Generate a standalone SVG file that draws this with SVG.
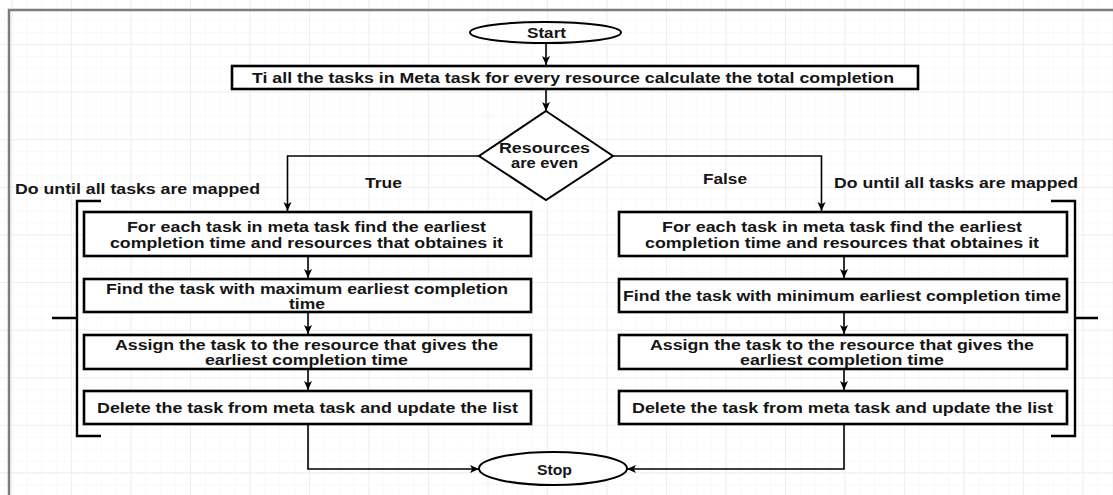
<svg xmlns="http://www.w3.org/2000/svg" width="1113" height="495" viewBox="0 0 1113 495">
<style>
.t{font-family:"Liberation Sans",Arial,sans-serif;font-weight:bold;font-size:14px;fill:#151515}
.box{fill:#fff;stroke:#000;stroke-width:2.6}
.shape{fill:#fff;stroke:#000;stroke-width:2}
.con{fill:none;stroke:#000;stroke-width:1.6}
.br{fill:none;stroke:#000;stroke-width:2.4}
</style>
<defs>
<pattern id="minor" x="11.5" y="-3.6" width="14.875" height="11.9" patternUnits="userSpaceOnUse">
<path d="M0,0 V11.9 M0,0 H14.875" fill="none" stroke="#f3f3f3" stroke-width="1"/>
</pattern>
<pattern id="major" x="11.5" y="-3.6" width="59.5" height="47.6" patternUnits="userSpaceOnUse">
<path d="M0,0 V47.6 M0,0 H59.5" fill="none" stroke="#e6e6e6" stroke-width="1"/>
</pattern>
<marker id="arr" viewBox="0 0 10 10" refX="10" refY="5" markerWidth="9" markerHeight="9" orient="auto" markerUnits="userSpaceOnUse">
<path d="M0,0.5 L10,5 L0,9.5 L2.5,5 z" fill="#000"/>
</marker>
</defs>
<rect width="1113" height="495" fill="#fff"/>
<rect width="1113" height="495" fill="url(#minor)"/>
<rect width="1113" height="495" fill="url(#major)"/>
<path d="M9,495 V10 H1113" fill="none" stroke="#7d7d7d" stroke-width="2.5"/>

<g id="connectors">
<path class="con" d="M546,43 V65" marker-end="url(#arr)"/>
<path class="con" d="M546,89 V111" marker-end="url(#arr)"/>
<path class="con" d="M479,156 H287.5 V211" marker-end="url(#arr)"/>
<path class="con" d="M613,156 H821.5 V211" marker-end="url(#arr)"/>
<path class="con" d="M308,256 V278" marker-end="url(#arr)"/>
<path class="con" d="M308,312 V334" marker-end="url(#arr)"/>
<path class="con" d="M308,369 V390" marker-end="url(#arr)"/>
<path class="con" d="M844,256 V278" marker-end="url(#arr)"/>
<path class="con" d="M844,312 V334" marker-end="url(#arr)"/>
<path class="con" d="M844,369 V390" marker-end="url(#arr)"/>
<path class="con" d="M308,424 V469 H479" marker-end="url(#arr)"/>
<path class="con" d="M844,424 V469 H627" marker-end="url(#arr)"/>
<text class="t" x="365" y="188" textLength="37" lengthAdjust="spacingAndGlyphs">True</text>
<text class="t" x="703" y="184" textLength="44" lengthAdjust="spacingAndGlyphs">False</text>
</g>

<g id="start">
<ellipse class="shape" cx="545.5" cy="32.5" rx="75.5" ry="10.5"/>
<text class="t" x="527" y="38" textLength="39" lengthAdjust="spacingAndGlyphs">Start</text>
</g>

<g id="calc">
<rect class="box" x="232" y="66" width="686" height="23"/>
<text class="t" x="252" y="82.5" textLength="642" lengthAdjust="spacingAndGlyphs">Ti all the tasks in Meta task for every resource calculate the total completion</text>
</g>

<g id="decision">
<polygon class="shape" points="546,111 613,156 546,200 479,156"/>
<text class="t" x="499" y="153" textLength="91" lengthAdjust="spacingAndGlyphs">Resources</text>
<text class="t" x="511" y="168" textLength="67" lengthAdjust="spacingAndGlyphs">are even</text>
</g>

<g id="left-loop">
<path class="br" d="M101,201 H77 V436 H101 M52,318 H77"/>
<text class="t" x="15" y="194" textLength="245" lengthAdjust="spacingAndGlyphs">Do until all tasks are mapped</text>
</g>

<g id="right-loop">
<path class="br" d="M1051,201 H1075 V436 H1051 M1075,318 H1098"/>
<text class="t" x="834" y="188" textLength="244" lengthAdjust="spacingAndGlyphs">Do until all tasks are mapped</text>
</g>

<g id="left-find-earliest">
<rect class="box" x="84" y="212" width="447" height="44"/>
<text class="t" x="127" y="232" textLength="359" lengthAdjust="spacingAndGlyphs">For each task in meta task find the earliest</text>
<text class="t" x="110" y="248" textLength="393" lengthAdjust="spacingAndGlyphs">completion time and resources that obtaines it</text>
</g>
<g id="left-find-max">
<rect class="box" x="84" y="279" width="447" height="33"/>
<text class="t" x="106" y="294" textLength="402" lengthAdjust="spacingAndGlyphs">Find the task with maximum earliest completion</text>
<text class="t" x="289" y="309" textLength="36" lengthAdjust="spacingAndGlyphs">time</text>
</g>
<g id="left-assign">
<rect class="box" x="84" y="335" width="447" height="34"/>
<text class="t" x="115" y="350" textLength="383" lengthAdjust="spacingAndGlyphs">Assign the task to the resource that gives the</text>
<text class="t" x="205" y="365" textLength="203" lengthAdjust="spacingAndGlyphs">earliest completion time</text>
</g>
<g id="left-delete">
<rect class="box" x="84" y="391" width="447" height="33"/>
<text class="t" x="97" y="413" textLength="421" lengthAdjust="spacingAndGlyphs">Delete the task from meta task and update the list</text>
</g>

<g id="right-find-earliest">
<rect class="box" x="619" y="212" width="448" height="44"/>
<text class="t" x="662" y="232" textLength="360" lengthAdjust="spacingAndGlyphs">For each task in meta task find the earliest</text>
<text class="t" x="645" y="248" textLength="394" lengthAdjust="spacingAndGlyphs">completion time and resources that obtaines it</text>
</g>
<g id="right-find-min">
<rect class="box" x="619" y="279" width="448" height="33"/>
<text class="t" x="623" y="301" textLength="438" lengthAdjust="spacingAndGlyphs">Find the task with minimum earliest completion time</text>
</g>
<g id="right-assign">
<rect class="box" x="619" y="335" width="448" height="34"/>
<text class="t" x="650" y="350" textLength="384" lengthAdjust="spacingAndGlyphs">Assign the task to the resource that gives the</text>
<text class="t" x="740" y="365" textLength="204" lengthAdjust="spacingAndGlyphs">earliest completion time</text>
</g>
<g id="right-delete">
<rect class="box" x="619" y="391" width="448" height="33"/>
<text class="t" x="632" y="413" textLength="421" lengthAdjust="spacingAndGlyphs">Delete the task from meta task and update the list</text>
</g>

<g id="stop">
<ellipse class="shape" cx="553" cy="468.5" rx="74" ry="16.5"/>
<text class="t" x="537" y="475" textLength="35" lengthAdjust="spacingAndGlyphs">Stop</text>
</g>
</svg>
